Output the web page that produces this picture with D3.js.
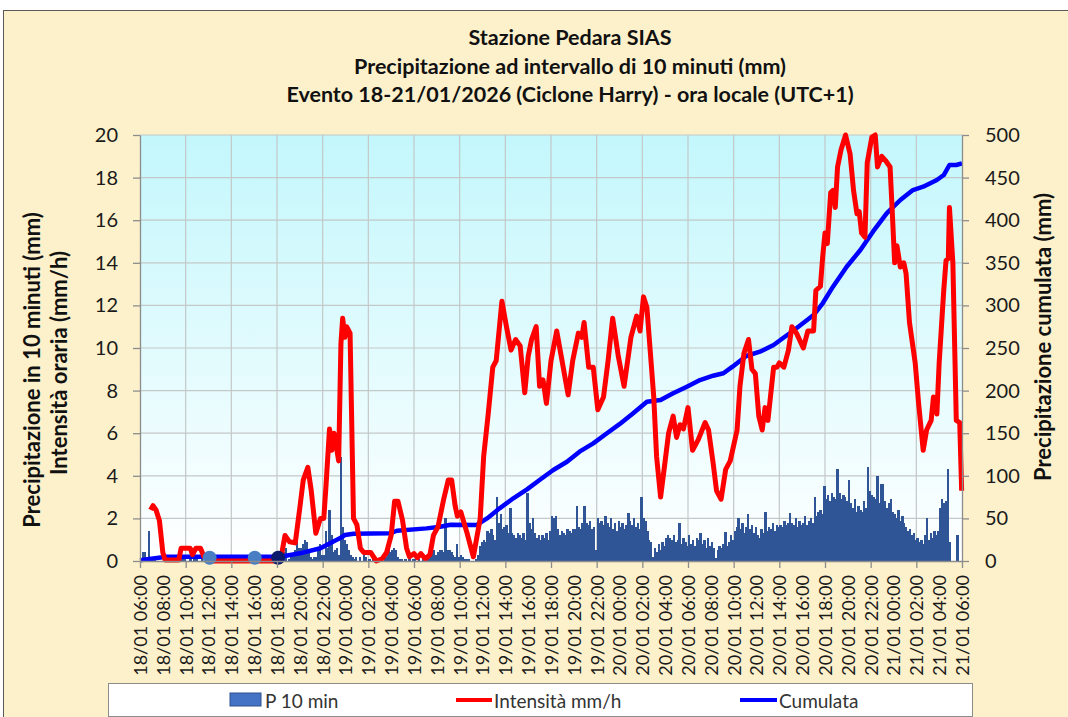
<!DOCTYPE html>
<html>
<head>
<meta charset="utf-8">
<script src="https://cdn.jsdelivr.net/npm/d3@7"></script>
<style>
  body { margin: 0; background: #fff; }
  text { font-family: Lato, "Open Sans", sans-serif; }
</style>
</head>
<body>
<div id="chart"></div>
<script>
// ---------------------------------------------------------------- data
// x axis labels, one every 2 hours (hour 0 = 18/01 06:00)
const tickLabels = [
  "18/01 06:00","18/01 08:00","18/01 10:00","18/01 12:00","18/01 14:00","18/01 16:00",
  "18/01 18:00","18/01 20:00","18/01 22:00","19/01 00:00","19/01 02:00","19/01 04:00",
  "19/01 06:00","19/01 08:00","19/01 10:00","19/01 12:00","19/01 14:00","19/01 16:00",
  "19/01 18:00","19/01 20:00","19/01 22:00","20/01 00:00","20/01 02:00","20/01 04:00",
  "20/01 06:00","20/01 08:00","20/01 10:00","20/01 12:00","20/01 14:00","20/01 16:00",
  "20/01 18:00","20/01 20:00","20/01 22:00","21/01 00:00","21/01 02:00","21/01 04:00",
  "21/01 06:00"
];
const leftTicks = [0,2,4,6,8,10,12,14,16,18,20];
const rightTicks = [0,50,100,150,200,250,300,350,400,450,500];

// P 10 min (mm), one row = one hour (6 values)
const p10min = [
  0.1,0.4,0.4,0.1,1.4,0.2,   0.1,0.1,0,0,0,0,
  0,0,0,0,0,0,               0,0,0,0.2,0.2,0.2,
  0,0,0.2,0,0.2,0.2,         0,0,0.2,0,0,0,
  0,0,0,0,0,0,               0,0,0,0,0,0,
  0,0,0,0,0,0,               0,0,0,0,0,0,
  0,0,0,0,0,0,               0,0,0,0,0,0,
  0,0,0.2,0.4,0.6,0,         0.1,0.2,0.3,0.5,1.2,0.6,
  0.6,0.8,1.0,0.9,0.4,0.2,   0.1,0.2,0.2,0.6,0.8,0.3,
  0.3,1.4,0.6,2.4,1.2,0.4,   0.5,0.6,0.3,4.9,1.6,1.0,
  0.8,0.5,0.3,0.2,0.1,0.2,   0,0.2,0,0.3,0.2,0,
  0.1,0,0.2,0,0,0,           0,0,0.1,0.2,0.5,0.4,
  0.5,0.6,0.5,0.2,0.1,0.1,   0,0.1,0,0.1,0,0.1,
  0.1,0,0.1,0,0.1,0,         0,0.1,0.2,0.4,0.5,0.3,
  0.4,0.5,0.5,0.4,2.0,0.5,   0.5,0.4,0.3,0.2,0.8,0.2,
  0.3,0.2,0.1,0.1,0.1,0,     0,0,0.1,0.3,0.7,0.9,
  1.0,0.9,1.4,1.3,1.5,1.2,   1.0,3.0,1.8,2.2,1.5,1.6,
  1.7,1.3,2.5,1.3,1.2,1.1,   1.3,1.2,1.1,1.3,1.0,3.2,
  1.8,1.5,2.0,1.3,1.1,1.2,   1.0,1.2,1.1,1.3,1.0,1.4,
  2.1,2.0,2.1,1.5,1.2,1.4,   1.3,1.2,1.5,1.4,1.3,1.5,
  1.5,2.6,1.6,1.5,1.8,2.6,   1.8,1.7,1.9,1.5,1.6,0.5,
  2.0,1.8,1.9,1.7,2.1,1.8,   1.6,2.0,1.5,1.8,1.4,1.9,
  1.6,1.8,1.5,1.7,2.25,1.9,  1.7,2.0,1.6,1.8,1.5,3.0,
  2.0,1.9,1.4,1.0,0.9,0.2,   0.6,0.4,0.8,0.5,0.9,0.7,
  1.1,1.2,1.1,1.0,1.2,0.9,   1.0,1.8,0.8,1.1,0.9,0.7,
  1.2,0.8,1.0,0.7,1.1,1.0,   1.3,0.8,1.0,0.6,1.1,0.7,
  0.9,0.6,0.15,0.5,0.7,0.6,  0.8,1.35,0.7,0.9,1.2,1.0,
  1.4,1.6,2.0,1.5,1.8,1.3,   1.6,2.2,1.5,1.7,1.3,1.6,
  1.2,1.1,1.5,1.3,2.3,1.4,   1.6,1.5,1.8,1.4,1.7,1.6,
  1.7,1.6,1.9,1.7,1.8,2.25,  1.8,1.7,2.0,1.6,1.9,1.7,
  1.8,2.1,1.7,1.9,2.0,1.8,   3.0,2.1,2.3,2.4,2.2,3.5,
  2.9,3.1,2.8,3.2,3.0,2.9,   4.3,3.2,2.9,3.1,3.0,2.8,
  3.8,2.7,2.5,2.9,2.3,2.6,   2.4,2.3,2.8,2.5,4.4,3.3,
  3.1,3.0,2.9,4.0,2.7,3.6,   3.6,2.8,2.5,2.7,2.9,2.3,
  2.2,2.0,2.4,1.9,2.1,1.8,   1.6,1.4,1.5,1.2,1.3,1.0,
  1.1,0.9,1.0,0.8,1.2,2.0,   1.0,1.3,1.1,1.4,1.2,1.4,
  2.5,2.9,2.7,2.8,4.3,0.9,   0,0,0,1.2,0,0
];

// Intensità mm/h : hour from start / value
const intHours = [0.93,1.14,1.4,1.7,2.0,2.2,3.4,3.6,4.4,4.6,4.9,5.3,5.6,6.0,12.3,12.7,13.1,13.6,14.0,14.3,
  14.7,15.0,15.4,15.8,16.1,16.3,16.6,16.8,17.0,17.4,17.6,17.75,17.95,18.1,18.4,18.7,19.0,19.3,19.6,20.2,
  20.7,21.2,21.6,22.0,22.3,22.6,23.0,23.35,23.6,24.0,24.3,24.6,25.0,25.4,25.7,26.1,26.6,27.0,27.3,27.6,
  27.8,28.1,28.6,29.2,29.8,30.1,30.5,30.9,31.2,31.45,31.7,32.1,32.5,32.9,33.3,33.7,34.0,34.3,34.7,35.0,
  35.3,35.6,36.0,36.5,36.9,37.5,37.9,38.4,38.7,38.9,39.3,39.7,40.1,40.6,41.0,41.4,41.9,42.4,43.0,43.5,
  43.8,44.1,44.4,44.8,45.0,45.25,45.6,46.0,46.3,46.7,47.0,47.3,47.6,48.0,48.2,48.4,48.9,49.5,49.8,50.2,
  50.5,50.9,51.3,51.7,52.3,52.55,52.9,53.3,53.6,53.9,54.2,54.5,54.75,55.0,55.5,55.8,56.0,56.4,56.8,57.1,
  57.5,58.1,58.5,59.0,59.2,59.6,59.8,60.0,60.2,60.5,60.7,60.9,61.1,61.4,61.8,62.2,62.5,62.8,63.0,63.2,
  63.5,63.7,64.1,64.4,64.6,64.97,65.3,65.7,65.9,66.1,66.3,66.6,66.9,67.1,67.4,67.9,68.2,68.6,68.9,69.3,
  69.5,69.8,70.0,70.4,70.6,70.8,70.9,71.2,71.5,71.8,71.97];
const intValues = [2.4,2.6,2.4,1.9,0.4,0.05,0.05,0.6,0.6,0.3,0.6,0.6,0.2,0,0,1.2,0.9,0.85,2.5,3.8,
  4.4,3.3,1.3,2.0,2.0,3.6,6.2,5.2,6.0,4.7,10.2,11.4,10.5,11.0,10.7,2.0,1.7,0.6,0.4,0.4,
  0,0.1,0.4,1.2,2.8,2.8,1.9,0.6,0.2,0.35,0.15,0.35,0.1,0.3,1.2,1.6,2.9,3.8,3.8,2.6,
  2.1,2.3,1.4,0.2,2.0,4.9,6.9,9.1,9.4,10.8,12.2,11.0,9.9,10.4,10.1,7.9,9.6,10.4,11.0,8.2,
  8.5,7.4,9.4,10.8,9.6,7.8,9.4,10.7,10.5,11.2,9.1,9.1,7.1,7.7,9.4,11.4,9.6,8.2,10.5,11.5,
  10.8,12.4,11.9,9.1,7.7,4.9,3.0,4.7,6.0,6.8,5.8,6.4,6.2,7.2,6.2,5.2,5.7,6.5,6.15,4.6,
  3.3,2.9,4.3,4.7,6.15,8.2,9.75,10.4,9.0,8.8,6.8,6.15,7.2,6.6,9.1,9.1,9.3,9.1,9.9,11.0,
  10.7,10.0,10.8,10.8,12.7,12.9,14.3,15.4,14.9,17.3,17.4,16.6,18.5,19.3,20.0,19.1,17.4,16.3,16.4,15.4,
  15.2,18.7,19.9,20.0,18.5,19.0,18.8,18.5,16.3,14.0,14.8,13.8,14.0,13.5,11.2,9.3,7.4,5.2,6.15,6.6,
  7.7,6.9,9.3,12.7,14.1,14.2,16.6,14.0,6.6,6.5,3.3];

// Cumulata (mm) : hour from start / value
const cumHours  = [0,2.3,12.3,14.0,15.8,16.9,17.5,17.95,18.7,21.9,22.5,25.1,26.3,27.2,29.5,30.4,31.5,32.7,
  33.9,35.0,36.2,37.4,38.5,39.7,40.9,42.0,43.2,44.4,45.6,46.7,47.9,49.05,50.2,51.1,51.9,53.1,54.3,55.5,
  56.3,57.1,57.5,59.0,59.8,60.7,61.9,63.1,64.2,65.4,66.6,67.7,68.6,69.8,70.4,70.9,71.5,72];
const cumValues = [1,5,5,9,15,22.7,26.6,30.5,32,32.5,35.5,38.3,40.3,42.5,42.3,50,61.8,73.6,
  84.1,95,106.8,116.5,128.3,138.1,149.9,160.6,173.4,187,189,196.8,204.6,212.4,217.5,220.3,228.1,240.6,245.7,253.5,
  261.4,269.1,273.1,288.7,302.5,322,345.4,365,386.5,408,423.7,435.4,439.3,447.2,453,464.8,464.8,466.8];

// the three dots at the bottom of the chart
const dotHours  = [6.1, 10.05, 12.1];
const dotValues = [0.15, 0.15, 0.15];
const dotColors = ["#4a7ec4", "#4a7ec4", "#0b1a6b"];

// ---------------------------------------------------------------- layout
const margin = {top: 135, right: 106, bottom: 156, left: 140},
    width = 1068 - margin.left - margin.right,
    height = 717 - margin.top - margin.bottom;

const root = d3.select("#chart")
  .append("svg")
    .attr("width", 1068)
    .attr("height", 717);

// chart area background + frame
root.append("rect")
    .attr("x", 3.5).attr("y", 10.5)
    .attr("width", 1100).attr("height", 720)
    .attr("fill", "#fdf1cc")
    .attr("stroke", "#5a5a5a");

// titles
const titles = ["Stazione Pedara SIAS",
  "Precipitazione ad intervallo di 10 minuti (mm)",
  "Evento 18-21/01/2026 (Ciclone Harry) - ora locale (UTC+1)"];
root.selectAll("text.title")
  .data(titles)
  .join("text")
    .attr("class", "title")
    .attr("x", 570)
    .attr("y", (d, i) => 37 + i * 28.5)
    .attr("text-anchor", "middle")
    .attr("dominant-baseline", "central")
    .style("font-weight", "bold")
    .style("font-size", "21.5px")
    .style("fill", "#111")
    .text(d => d);

const svg = root.append("g")
    .attr("transform", `translate(${margin.left},${margin.top})`);

// gradient for the plot area
const grad = root.append("defs").append("linearGradient")
    .attr("id", "plotBg")
    .attr("x1", 0).attr("y1", 0).attr("x2", 0).attr("y2", 1);
grad.append("stop").attr("offset", "0%").attr("stop-color", "#c3f7fc");
grad.append("stop").attr("offset", "100%").attr("stop-color", "#ffffff");

svg.append("rect")
    .attr("width", width)
    .attr("height", height)
    .attr("fill", "url(#plotBg)");

// ---------------------------------------------------------------- scales
const x = d3.scaleLinear().domain([0, 72]).range([0, width]);
const yL = d3.scaleLinear().domain([0, 20]).range([height, 0]);
const yR = d3.scaleLinear().domain([0, 500]).range([height, 0]);

// gridlines
svg.append("g")
  .selectAll("line")
  .data(leftTicks.filter(d => d > 0))
  .join("line")
    .attr("x1", 0).attr("x2", width)
    .attr("y1", d => yL(d)).attr("y2", d => yL(d))
    .attr("stroke", "#c4c8c8").attr("stroke-width", 1.2);

svg.append("g")
  .selectAll("line")
  .data(d3.range(4, 72, 4))
  .join("line")
    .attr("x1", d => x(d)).attr("x2", d => x(d))
    .attr("y1", 0).attr("y2", height)
    .attr("stroke", "#c4c8c8").attr("stroke-width", 1.2);

// ---------------------------------------------------------------- bars
const barW = x(1 / 6) - x(0);
svg.append("g")
    .attr("shape-rendering", "crispEdges")
  .selectAll("rect")
  .data(p10min)
  .join("rect")
    .attr("x", (d, i) => x(i / 6))
    .attr("width", barW + 0.5)
    .attr("y", d => yL(d))
    .attr("height", d => height - yL(d))
    .attr("fill", "#2f5597");

// ---------------------------------------------------------------- lines
const cumLine = d3.line()
    .x(d => x(d[0]))
    .y(d => yR(d[1]));

const intLine = d3.line()
    .x(d => x(d[0]))
    .y(d => yL(d[1]));

svg.append("path")
    .datum(d3.zip(cumHours, cumValues))
    .attr("fill", "none")
    .attr("stroke", "#0000ff")
    .attr("stroke-width", 4.5)
    .attr("stroke-linejoin", "round")
    .attr("d", cumLine);

svg.append("path")
    .datum(d3.zip(intHours, intValues))
    .attr("fill", "none")
    .attr("stroke", "#ff0000")
    .attr("stroke-width", 5)
    .attr("stroke-linejoin", "round")
    .attr("d", intLine);

svg.append("g")
  .selectAll("circle")
  .data(d3.zip(dotHours, dotValues, dotColors))
  .join("circle")
    .attr("cx", d => x(d[0]))
    .attr("cy", d => yL(d[1]))
    .attr("r", 7)
    .attr("fill", d => d[2]);

// ---------------------------------------------------------------- axes
function styleAxis(g) {
  g.select(".domain").attr("stroke", "#8c8c8c").attr("stroke-width", 1.3);
  g.selectAll(".tick line").attr("stroke", "#8c8c8c").attr("stroke-width", 1.3);
  g.selectAll(".tick text")
    .style("font-size", "20px")
    .style("fill", "#1a1a1a");
}

svg.append("g")
    .call(d3.axisLeft(yL).tickValues(leftTicks).tickSize(7).tickPadding(15).tickSizeOuter(0))
    .call(styleAxis);

svg.append("g")
    .attr("transform", `translate(${width},0)`)
    .call(d3.axisRight(yR).tickValues(rightTicks).tickSize(7).tickPadding(16).tickSizeOuter(0))
    .call(styleAxis);

const xAxis = svg.append("g")
    .attr("transform", `translate(0,${height})`)
    .call(d3.axisBottom(x)
      .tickValues(d3.range(0, 73, 2))
      .tickFormat((d, i) => tickLabels[i])
      .tickSize(7)
      .tickSizeOuter(0))
    .call(styleAxis);

// tick marks only every 4 hours
xAxis.selectAll(".tick line").filter((d, i) => i % 2 === 1).remove();

xAxis.selectAll(".tick text")
    .style("font-size", "18px")
    .attr("transform", "rotate(-90)")
    .attr("text-anchor", "end")
    .attr("x", -14)
    .attr("y", 0)
    .attr("dy", "0.36em");

// axis titles
root.append("text")
    .attr("transform", "translate(31,370) rotate(-90)")
    .attr("text-anchor", "middle")
    .attr("dominant-baseline", "central")
    .style("font-weight", "bold").style("font-size", "22px").style("fill", "#111")
    .text("Precipitazione  in 10 minuti (mm)");

root.append("text")
    .attr("transform", "translate(58,363) rotate(-90)")
    .attr("text-anchor", "middle")
    .attr("dominant-baseline", "central")
    .style("font-weight", "bold").style("font-size", "22px").style("fill", "#111")
    .text("Intensità oraria (mm/h)");

root.append("text")
    .attr("transform", "translate(1042,337) rotate(-90)")
    .attr("text-anchor", "middle")
    .attr("dominant-baseline", "central")
    .style("font-weight", "bold").style("font-size", "22px").style("fill", "#111")
    .text("Precipitazione cumulata (mm)");

// ---------------------------------------------------------------- legend
const legend = root.append("g");

legend.append("rect")
    .attr("x", 108.5).attr("y", 683.5)
    .attr("width", 864).attr("height", 33)
    .attr("fill", "#fff")
    .attr("stroke", "#8c8c8c");

legend.append("rect")
    .attr("x", 230).attr("y", 693)
    .attr("width", 31).attr("height", 13)
    .attr("fill", "#4472c4")
    .attr("stroke", "#2f528f");

legend.append("line")
    .attr("x1", 456).attr("x2", 492)
    .attr("y1", 700).attr("y2", 700)
    .attr("stroke", "#ff0000").attr("stroke-width", 4);

legend.append("line")
    .attr("x1", 740).attr("x2", 777)
    .attr("y1", 700).attr("y2", 700)
    .attr("stroke", "#0000ff").attr("stroke-width", 4);

const legendLabels = [["P 10 min", 265], ["Intensità mm/h", 494], ["Cumulata", 779]];
legend.selectAll("text")
  .data(legendLabels)
  .join("text")
    .attr("x", d => d[1])
    .attr("y", 700)
    .attr("dominant-baseline", "central")
    .style("font-size", "19px")
    .style("fill", "#333")
    .text(d => d[0]);
</script>
</body>
</html>
